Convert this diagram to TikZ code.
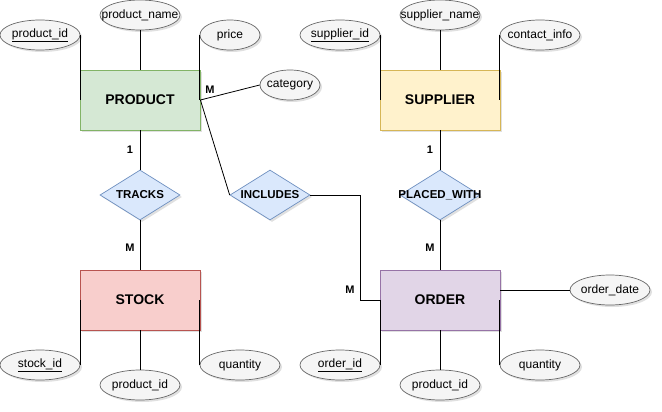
\documentclass[tikz,border=0pt]{standalone}
\usepackage{fontspec}
\setmainfont{Liberation Sans}
\usetikzlibrary{shapes.geometric,shadows}
\definecolor{pfill}{HTML}{D5E8D4}\definecolor{pdraw}{HTML}{82B366}
\definecolor{sfill}{HTML}{FFF2CC}\definecolor{sdraw}{HTML}{D6B656}
\definecolor{kfill}{HTML}{F8CECC}\definecolor{kdraw}{HTML}{B85450}
\definecolor{ofill}{HTML}{E1D5E7}\definecolor{odraw}{HTML}{9673A6}
\definecolor{efill}{HTML}{F5F5F5}\definecolor{edraw}{HTML}{666666}
\definecolor{dfill}{HTML}{DAE8FC}\definecolor{ddraw}{HTML}{6C8EBF}
\begin{document}
\begin{tikzpicture}[x=1pt,y=-1pt,
  shd/.style={drop shadow={shadow xshift=2pt,shadow yshift=-2pt,opacity=0.2,fill=black!60}},
  entity/.style={rectangle,minimum width=120pt,minimum height=60pt,line width=0.8pt,inner sep=0pt,font=\bfseries\fontsize{14}{16}\selectfont,shd},
  attr/.style={ellipse,draw=edraw,fill=efill,minimum height=30pt,inner sep=0pt,line width=0.7pt,shd},
  attrtext/.style={font=\fontsize{12}{14}\selectfont,inner sep=0pt},
  rel/.style={diamond,draw=ddraw,fill=dfill,minimum width=80pt,minimum height=50pt,inner sep=0pt,aspect=1.6,line width=0.7pt,shd},
  reltext/.style={font=\bfseries\fontsize{11.5}{14}\selectfont,inner sep=0pt},
  card/.style={font=\bfseries\fontsize{11}{13}\selectfont,inner sep=0pt},
  conn/.style={draw=black,line width=0.8pt}]
\useasboundingbox (0,0) rectangle (662,412);
% entities
\node[entity,fill=pfill,draw=pdraw] (product) at (140,100) {PRODUCT};
\node[entity,fill=sfill,draw=sdraw] (supplier) at (440,100) {SUPPLIER};
\node[entity,fill=kfill,draw=kdraw] (stock) at (140,300) {STOCK};
\node[entity,fill=ofill,draw=odraw] (order) at (440,300) {ORDER};
% relationships
\node[rel] (tracks) at (140,195) {};
\node[reltext] (tracksT) at (tracks.center) {TRACKS};
\node[rel] (includes) at (270,195) {};
\node[reltext] (includesT) at (includes.center) {INCLUDES};
\node[rel] (placed) at (440,195) {};
\node[reltext] (placedT) at (placed.center) {PLACED\_WITH};
% attributes
\node[attr,minimum width=80pt] (pid) at (40,35) {};
\node[attrtext] (pidT) at (pid.center) {\underline{product\_id}};
\node[attr,minimum width=80pt] (pname) at (140,15) {};
\node[attrtext] (pnameT) at (pname.center) {product\_name};
\node[attr,minimum width=60pt] (price) at (230,35) {};
\node[attrtext] (priceT) at (price.center) {price};
\node[attr,minimum width=60pt] (cat) at (290,85) {};
\node[attrtext] (catT) at (cat.center) {category};
\node[attr,minimum width=80pt] (sid) at (340,35) {};
\node[attrtext] (sidT) at (sid.center) {\underline{supplier\_id}};
\node[attr,minimum width=80pt] (sname) at (440,15) {};
\node[attrtext] (snameT) at (sname.center) {supplier\_name};
\node[attr,minimum width=80pt] (cinfo) at (540,35) {};
\node[attrtext] (cinfoT) at (cinfo.center) {contact\_info};
\node[attr,minimum width=80pt] (stid) at (40,365) {};
\node[attrtext] (stidT) at (stid.center) {\underline{stock\_id}};
\node[attr,minimum width=80pt] (stpid) at (140,385) {};
\node[attrtext] (stpidT) at (stpid.center) {product\_id};
\node[attr,minimum width=80pt] (stq) at (240,365) {};
\node[attrtext] (stqT) at (stq.center) {quantity};
\node[attr,minimum width=80pt] (oid) at (340,365) {};
\node[attrtext] (oidT) at (oid.center) {\underline{order\_id}};
\node[attr,minimum width=80pt] (opid) at (440,385) {};
\node[attrtext] (opidT) at (opid.center) {product\_id};
\node[attr,minimum width=80pt] (oq) at (540,365) {};
\node[attrtext] (oqT) at (oq.center) {quantity};
\node[attr,minimum width=80pt] (odate) at (610,290) {};
\node[attrtext] (odateT) at (odate.center) {order\_date};
% attribute connectors
\draw[conn] (pid.east) -- (pid.east |- product.west);
\draw[conn] (pname.south) -- (product.north);
\draw[conn] (price.west) -- (price.west |- product.east);
\draw[conn] (product.east) -- (cat.west);
\draw[conn] (sid.east) -- (sid.east |- supplier.west);
\draw[conn] (sname.south) -- (supplier.north);
\draw[conn] (cinfo.west) -- (cinfo.west |- supplier.east);
\draw[conn] (stid.east) -- (stid.east |- stock.west);
\draw[conn] (stpid.north) -- (stock.south);
\draw[conn] (stq.west) -- (stq.west |- stock.east);
\draw[conn] (oid.east) -- (oid.east |- order.west);
\draw[conn] (opid.north) -- (order.south);
\draw[conn] (oq.west) -- (oq.west |- order.east);
\draw[conn] (order.east |- odate.west) -- (odate.west);
% relationship connectors
\draw[conn] (product.south) -- (tracks.north);
\draw[conn] (tracks.south) -- (stock.north);
\draw[conn] (supplier.south) -- (placed.north);
\draw[conn] (placed.south) -- (order.north);
\draw[conn] (product.east) -- (includes.west);
\coordinate (bend1) at (360,195);
\coordinate (bend2) at (360,300);
\draw[conn] (includes.east) -- (bend1) -- (bend2) -- (order.west);
% cardinalities
\node[card] (c1) at (210,90) {M};
\node[card] (c2) at (130,150) {1};
\node[card] (c3) at (130,248) {M};
\node[card] (c4) at (430,150) {1};
\node[card] (c5) at (430,248) {M};
\node[card] (c6) at (350,290) {M};
\end{tikzpicture}
\end{document}
